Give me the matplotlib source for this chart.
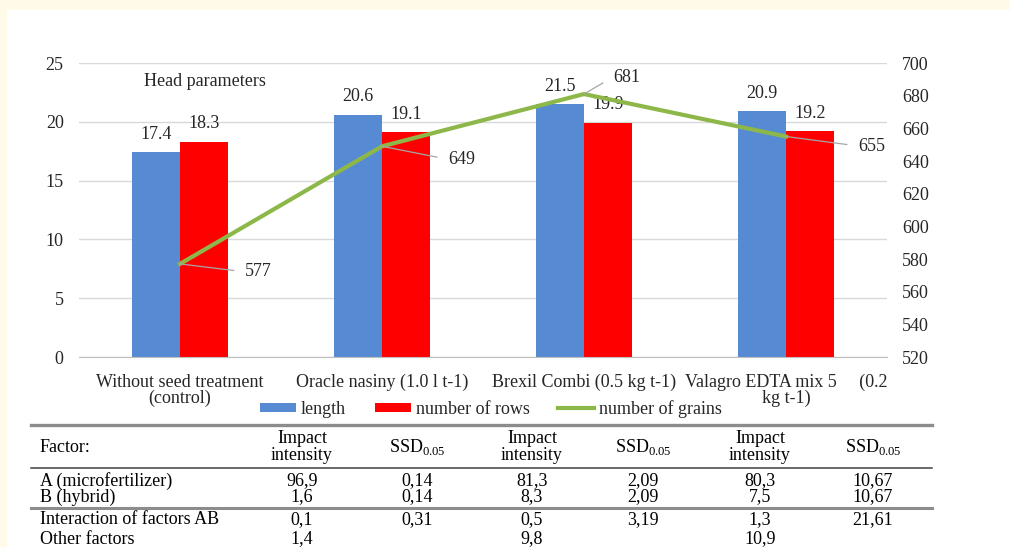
import matplotlib
matplotlib.use("Agg")
import matplotlib.pyplot as plt
import numpy as np
from matplotlib.patches import Rectangle, Patch
from matplotlib.lines import Line2D

# ---------------- data ----------------
categories = ["Without seed treatment\n(control)",
              "Oracle nasiny (1.0 l t-1)",
              "Brexil Combi (0.5 kg t-1)",
              "Valagro EDTA mix 5     (0.2\nkg t-1)"]
length = [17.4, 20.6, 21.5, 20.9]
rows = [18.3, 19.1, 19.9, 19.2]
grains = [577, 649, 681, 655]
grain_label_offsets = [(65, -8), (66, -13), (29, 17), (72, -9.5)]  # pixels

table_header = ["Factor:", "Impact\nintensity", "SSD", "Impact\nintensity", "SSD",
                "Impact\nintensity", "SSD"]
table_factors = ["A (microfertilizer)", "B (hybrid)", "Interaction of factors AB", "Other factors"]
table_values = [
    ["96,9", "0,14", "81,3", "2,09", "80,3", "10,67"],
    ["1,6", "0,14", "8,3", "2,09", "7,5", "10,67"],
    ["0,1", "0,31", "0,5", "3,19", "1,3", "21,61"],
    ["1,4", "", "9,8", "", "10,9", ""],
]

# ---------------- style ----------------
plt.rcParams['font.family'] = ['Liberation Serif', 'DejaVu Serif']
plt.rcParams['mathtext.fontset'] = 'custom'
plt.rcParams['mathtext.rm'] = 'Liberation Serif'
FS = 13
TXT = '#262626'
BLUE = '#568BD3'
RED = '#FF0000'
GREEN = '#8DB849'
GRID = '#D9D9D9'

W, H = 1010, 547
fig = plt.figure(figsize=(W / 100, H / 100), dpi=100)
fig.patch.set_facecolor('white')

def fx(px):
    return px / W

def fy(py):
    return 1 - py / H

# cream border strips
fig.patches.append(Rectangle((0, fy(10)), 1, 10 / H, transform=fig.transFigure,
                             facecolor='#FFFBE8', edgecolor='none', zorder=-10))
fig.patches.append(Rectangle((0, 0), 7 / W, 1, transform=fig.transFigure,
                             facecolor='#FFFBE8', edgecolor='none', zorder=-10))

ax = fig.add_axes([fx(79), fy(357), fx(887 - 79), (357 - 63) / H])
x = np.arange(len(categories))
w = 0.238
b1 = ax.bar(x - w / 2, length, w, color=BLUE, label='length', zorder=2)
b2 = ax.bar(x + w / 2, rows, w, color=RED, label='number of rows', zorder=2)
ax.set_ylim(0, 25)
ax.set_xlim(-0.5, len(categories) - 0.5)
ax.set_yticks(np.arange(0, 26, 5))
ax.yaxis.grid(True, color=GRID, lw=1)
ax.set_axisbelow(True)
for s in ['top', 'right', 'left']:
    ax.spines[s].set_visible(False)
ax.spines['bottom'].set_color('#BFBFBF')
ax.tick_params(axis='both', length=0, labelsize=FS, labelcolor=TXT)
ax.tick_params(axis='y', pad=11)
ax.tick_params(axis='x', pad=12)
ax.set_xticks(x)
first_lines = [c.split("\n")[0] for c in categories]
ax.set_xticklabels(first_lines)
for xi, c in zip(x, categories):
    parts = c.split("\n")
    if len(parts) > 1:
        ax.annotate(parts[1], (xi, 0), xycoords=ax.get_xaxis_transform(),
                    xytext=(0, -41), textcoords='offset pixels', ha='center',
                    va='center', fontsize=FS, color=TXT)

for bars, vals in ((b1, length), (b2, rows)):
    for r, v in zip(bars, vals):
        ax.annotate(f"{v}", (r.get_x() + r.get_width() / 2, v), xytext=(0, 18),
                    textcoords='offset pixels', ha='center', va='center',
                    fontsize=FS, color=TXT, zorder=5)

ax2 = ax.twinx()
ax2.set_ylim(520, 700)
ax2.set_yticks(np.arange(520, 701, 20))
for s in ax2.spines.values():
    s.set_visible(False)
ax2.tick_params(axis='y', length=0, labelsize=FS, labelcolor=TXT, pad=11)
ln, = ax2.plot(x, grains, color=GREEN, lw=3, label='number of grains', zorder=3,
               solid_joinstyle='miter')
for xi, g, off in zip(x, grains, grain_label_offsets):
    ax2.annotate(f"{g}", (xi, g), xytext=off, textcoords='offset pixels',
                 ha='left', va='center', fontsize=FS, color=TXT,
                 arrowprops=dict(arrowstyle='-', color='#A6A6A6', lw=0.9,
                                 shrinkA=6, shrinkB=0, relpos=(0, 0.5)))

fig.text(fx(205), fy(82), "Head parameters", ha='center', va='center',
         fontsize=FS, color=TXT)

handles = [Patch(facecolor=BLUE, edgecolor='none'),
           Patch(facecolor=RED, edgecolor='none'),
           Line2D([0], [0], color=GREEN, lw=3)]
fig.legend(handles, ['length', 'number of rows', 'number of grains'],
           loc='center', bbox_to_anchor=(fx(491), fy(409)), ncol=3, frameon=False,
           fontsize=FS, handlelength=2.0, handleheight=0.45, handletextpad=0.25,
           columnspacing=1.6, labelcolor=TXT, borderpad=0)

# ---------------- table ----------------
col_x = [40, 302, 417, 532, 643, 760, 873]
def hline(py, lw, color):
    fig.add_artist(Line2D([fx(31), fx(932)], [fy(py), fy(py)], lw=lw, color=color,
                          transform=fig.transFigure))

hline(425, 2.4, '#8C8C8C')
hline(468, 1.1, '#404040')
hline(508, 2.2, '#8C8C8C')

header_y = 447
for i, h in enumerate(table_header):
    if i == 0:
        fig.text(fx(col_x[0]), fy(header_y), h, ha='left', va='center',
                 fontsize=FS, color='black')
    elif h == "SSD":
        fig.text(fx(col_x[i]), fy(header_y), r"$\mathrm{SSD}_{\mathrm{0.05}}$",
                 ha='center', va='center', fontsize=FS, color='black')
    else:
        fig.text(fx(col_x[i]), fy(header_y), h, ha='center', va='center',
                 fontsize=FS, color='black', linespacing=0.95)

row_y = [481, 497, 520, 539]
for ry, name, vals in zip(row_y, table_factors, table_values):
    fig.text(fx(col_x[0]), fy(ry), name, ha='left', va='center', fontsize=FS, color='black')
    for cx, v in zip(col_x[1:], vals):
        if v:
            fig.text(fx(cx), fy(ry), v, ha='center', va='center', fontsize=FS, color='black')

fig.savefig("out.png", dpi=100, facecolor=fig.get_facecolor())
